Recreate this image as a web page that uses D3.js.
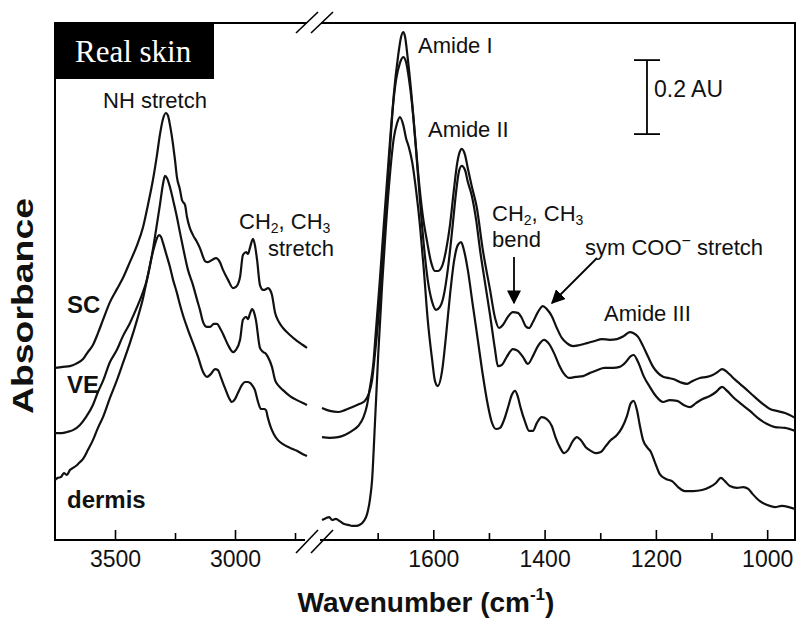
<!DOCTYPE html>
<html>
<head>
<meta charset="utf-8">
<script src="https://cdn.jsdelivr.net/npm/d3@7"></script>
<style>
  html, body { margin: 0; padding: 0; background: #fff; }
  svg { display: block; }
</style>
</head>
<body>
<svg id="chart" width="797" height="621"></svg>
<script>
// ---------------- DATA (wavenumber cm-1, absorbance AU) ----------------
const leftTickLabels = [3500, 3000];
const leftMinorTicks = [3250, 2750];
const rightTickLabels = [1600, 1400, 1200, 1000];
const rightMinorTicks = [1700, 1500, 1300, 1100];
const seriesNames = ["SC", "VE", "dermis"];

const scLeft = [[3750,0.465],[3717,0.468],[3688,0.470],[3663,0.476],[3633,0.489],[3613,0.508],[3592,0.527],[3571,0.559],[3550,0.595],[3521,0.643],[3492,0.678],[3467,0.708],[3438,0.751],[3408,0.797],[3383,0.846],[3363,0.905],[3342,0.973],[3325,1.041],[3313,1.095],[3300,1.138],[3288,1.154],[3279,1.146],[3271,1.122],[3258,1.068],[3250,1.027],[3242,0.981],[3229,0.946],[3221,0.919],[3208,0.905],[3200,0.873],[3188,0.843],[3175,0.824],[3158,0.805],[3146,0.789],[3133,0.765],[3125,0.754],[3113,0.751],[3096,0.757],[3079,0.762],[3063,0.751],[3050,0.730],[3029,0.703],[3008,0.681],[2996,0.684],[2979,0.711],[2967,0.770],[2954,0.778],[2946,0.773],[2938,0.789],[2925,0.814],[2917,0.797],[2908,0.757],[2896,0.689],[2883,0.676],[2871,0.678],[2863,0.681],[2854,0.676],[2846,0.662],[2833,0.614],[2817,0.589],[2800,0.573],[2771,0.554],[2742,0.538],[2717,0.527],[2700,0.519]];

const veLeft = [[3750,0.289],[3721,0.289],[3700,0.292],[3675,0.297],[3646,0.311],[3621,0.332],[3592,0.365],[3571,0.400],[3550,0.430],[3521,0.481],[3492,0.514],[3467,0.551],[3438,0.586],[3408,0.630],[3388,0.662],[3367,0.703],[3346,0.770],[3329,0.838],[3313,0.905],[3300,0.962],[3292,0.984],[3283,0.978],[3271,0.954],[3258,0.919],[3242,0.873],[3229,0.830],[3217,0.792],[3196,0.730],[3175,0.689],[3158,0.649],[3146,0.622],[3133,0.589],[3117,0.576],[3104,0.576],[3088,0.584],[3075,0.584],[3063,0.573],[3050,0.557],[3029,0.527],[3008,0.508],[2996,0.514],[2979,0.541],[2967,0.595],[2954,0.603],[2946,0.597],[2938,0.611],[2929,0.624],[2921,0.616],[2913,0.595],[2896,0.519],[2883,0.508],[2871,0.503],[2863,0.495],[2846,0.468],[2833,0.432],[2817,0.416],[2800,0.405],[2771,0.389],[2742,0.378],[2717,0.370],[2700,0.365]];

const dermisLeft = [[3750,0.162],[3738,0.168],[3725,0.170],[3713,0.181],[3700,0.176],[3688,0.189],[3675,0.195],[3663,0.200],[3650,0.208],[3633,0.219],[3613,0.243],[3592,0.270],[3571,0.303],[3550,0.332],[3521,0.384],[3492,0.432],[3467,0.478],[3438,0.532],[3408,0.595],[3383,0.654],[3363,0.716],[3346,0.768],[3333,0.800],[3325,0.816],[3317,0.824],[3308,0.819],[3300,0.803],[3288,0.776],[3271,0.738],[3258,0.703],[3242,0.668],[3229,0.635],[3217,0.608],[3196,0.568],[3175,0.532],[3154,0.495],[3133,0.454],[3117,0.441],[3100,0.449],[3083,0.462],[3071,0.459],[3058,0.438],[3042,0.411],[3025,0.384],[3013,0.373],[3000,0.381],[2988,0.397],[2971,0.419],[2958,0.427],[2946,0.427],[2933,0.422],[2917,0.405],[2904,0.373],[2892,0.354],[2879,0.354],[2871,0.351],[2863,0.330],[2850,0.303],[2838,0.286],[2821,0.270],[2800,0.259],[2771,0.249],[2742,0.241],[2717,0.232],[2700,0.227]];

const scRight = [[1800,0.357],[1786,0.349],[1771,0.346],[1759,0.351],[1746,0.359],[1732,0.368],[1723,0.376],[1716,0.395],[1710,0.432],[1705,0.500],[1699,0.595],[1692,0.730],[1685,0.892],[1678,1.054],[1671,1.203],[1663,1.311],[1658,1.359],[1654,1.373],[1651,1.362],[1646,1.303],[1640,1.216],[1633,1.095],[1626,0.973],[1619,0.878],[1611,0.805],[1604,0.751],[1597,0.727],[1592,0.727],[1584,0.741],[1577,0.784],[1570,0.851],[1563,0.946],[1557,1.019],[1552,1.051],[1549,1.057],[1543,1.041],[1538,1.005],[1531,0.957],[1522,0.900],[1511,0.784],[1498,0.676],[1489,0.600],[1482,0.573],[1475,0.581],[1466,0.603],[1457,0.616],[1448,0.614],[1441,0.600],[1434,0.578],[1428,0.573],[1421,0.589],[1412,0.616],[1403,0.632],[1396,0.624],[1387,0.605],[1378,0.573],[1369,0.546],[1360,0.532],[1349,0.524],[1337,0.527],[1324,0.532],[1310,0.538],[1297,0.543],[1283,0.541],[1270,0.543],[1258,0.551],[1247,0.562],[1240,0.559],[1232,0.549],[1223,0.524],[1214,0.495],[1205,0.468],[1196,0.451],[1187,0.441],[1178,0.438],[1169,0.435],[1157,0.427],[1144,0.422],[1134,0.430],[1121,0.438],[1108,0.441],[1098,0.446],[1089,0.454],[1081,0.462],[1072,0.454],[1061,0.438],[1049,0.422],[1036,0.405],[1022,0.386],[1008,0.368],[995,0.354],[983,0.349],[968,0.343],[950,0.330]];

const veRight = [[1800,0.278],[1786,0.276],[1771,0.278],[1759,0.284],[1746,0.295],[1735,0.308],[1726,0.330],[1719,0.365],[1714,0.411],[1708,0.473],[1703,0.568],[1696,0.703],[1689,0.851],[1681,1.014],[1674,1.149],[1667,1.243],[1660,1.289],[1654,1.305],[1649,1.292],[1644,1.249],[1638,1.176],[1631,1.054],[1624,0.919],[1617,0.797],[1610,0.703],[1602,0.643],[1595,0.622],[1588,0.630],[1581,0.662],[1574,0.730],[1566,0.838],[1559,0.941],[1554,0.995],[1549,1.011],[1543,1.000],[1538,0.968],[1531,0.932],[1523,0.865],[1516,0.784],[1507,0.695],[1498,0.608],[1489,0.514],[1484,0.470],[1477,0.473],[1468,0.495],[1457,0.516],[1448,0.511],[1439,0.495],[1430,0.476],[1421,0.497],[1412,0.524],[1401,0.541],[1392,0.530],[1383,0.505],[1374,0.473],[1365,0.449],[1356,0.438],[1344,0.441],[1331,0.443],[1319,0.451],[1306,0.459],[1292,0.465],[1277,0.465],[1265,0.468],[1254,0.481],[1245,0.497],[1240,0.500],[1232,0.481],[1222,0.443],[1211,0.414],[1200,0.389],[1187,0.373],[1175,0.378],[1162,0.376],[1150,0.365],[1139,0.359],[1128,0.370],[1116,0.381],[1103,0.389],[1092,0.400],[1081,0.414],[1072,0.403],[1061,0.386],[1047,0.368],[1031,0.349],[1017,0.330],[1001,0.314],[986,0.305],[968,0.303],[950,0.295]];

const dermisRight = [[1800,0.054],[1793,0.059],[1787,0.062],[1782,0.054],[1775,0.057],[1768,0.051],[1760,0.043],[1753,0.041],[1746,0.038],[1739,0.038],[1732,0.041],[1725,0.051],[1719,0.070],[1714,0.108],[1710,0.162],[1705,0.311],[1699,0.500],[1692,0.689],[1685,0.851],[1678,0.986],[1671,1.086],[1665,1.127],[1660,1.143],[1654,1.122],[1649,1.086],[1644,1.062],[1638,1.022],[1631,0.946],[1624,0.851],[1617,0.730],[1610,0.595],[1602,0.486],[1597,0.430],[1592,0.416],[1584,0.459],[1577,0.554],[1570,0.662],[1563,0.751],[1556,0.797],[1550,0.805],[1545,0.784],[1538,0.730],[1529,0.635],[1520,0.541],[1511,0.446],[1502,0.365],[1495,0.319],[1487,0.300],[1480,0.303],[1473,0.324],[1466,0.357],[1459,0.392],[1453,0.403],[1448,0.387],[1443,0.357],[1435,0.319],[1428,0.295],[1421,0.295],[1414,0.316],[1405,0.332],[1396,0.327],[1387,0.308],[1380,0.276],[1372,0.249],[1365,0.235],[1358,0.243],[1349,0.268],[1342,0.278],[1335,0.270],[1326,0.251],[1317,0.241],[1308,0.235],[1299,0.238],[1290,0.254],[1281,0.270],[1270,0.284],[1261,0.303],[1252,0.335],[1245,0.370],[1240,0.376],[1234,0.351],[1229,0.311],[1223,0.270],[1216,0.251],[1209,0.238],[1202,0.211],[1193,0.178],[1182,0.165],[1171,0.159],[1160,0.143],[1148,0.132],[1133,0.132],[1117,0.135],[1103,0.143],[1092,0.154],[1083,0.168],[1076,0.159],[1067,0.146],[1054,0.141],[1043,0.143],[1034,0.138],[1026,0.124],[1013,0.105],[1001,0.095],[986,0.089],[974,0.092],[961,0.089],[950,0.084]];

const scaleBarAU = 0.2;
const scaleBarBase = 1.097;   // AU
const scaleBarWn = 1216;      // cm-1 position in right panel

// ---------------- LAYOUT ----------------
const svg = d3.select("#chart");
const plotLeft = 55, plotRight = 795, plotTop = 23, plotBottom = 540;

const xL = d3.scaleLinear().domain([3750, 2700]).range([plotLeft, 307]);
const xR = d3.scaleLinear().domain([1800, 950]).range([322, plotRight]);
const y = d3.scaleLinear().domain([0, 1.4]).range([plotBottom, 22]);

const sans = "'Liberation Sans', Arial, Helvetica, sans-serif";

// frame
const frame = svg.append("g").attr("stroke", "#000").attr("stroke-width", 2).attr("fill", "none");
frame.append("line").attr("x1", plotLeft).attr("x2", plotLeft).attr("y1", plotTop - 1).attr("y2", plotBottom + 1);
frame.append("line").attr("x1", plotRight).attr("x2", plotRight).attr("y1", plotTop - 1).attr("y2", plotBottom + 1);
frame.append("line").attr("x1", plotLeft).attr("x2", 307).attr("y1", plotTop).attr("y2", plotTop);
frame.append("line").attr("x1", 321).attr("x2", plotRight).attr("y1", plotTop).attr("y2", plotTop);
frame.append("line").attr("x1", plotLeft).attr("x2", 305).attr("y1", plotBottom).attr("y2", plotBottom);
frame.append("line").attr("x1", 320).attr("x2", plotRight).attr("y1", plotBottom).attr("y2", plotBottom);

// break marks
const brk = svg.append("g").attr("stroke", "#000").attr("stroke-width", 1.6);
[[plotBottom, 13, -10], [plotTop, 10, -11]].forEach(([yy, dn, up]) => {
  [[296, 318], [311, 333]].forEach(([a, b]) => {
    brk.append("line").attr("x1", a).attr("y1", yy + dn).attr("x2", b).attr("y2", yy + up);
  });
});

// axes (ticks pointing inward)
function drawAxis(scale, labels, minors) {
  const g = svg.append("g").attr("transform", `translate(0,${plotBottom})`);
  g.call(d3.axisBottom(scale).tickValues(labels).tickSizeInner(-10).tickSizeOuter(0).tickPadding(20).tickFormat(d3.format("d")));
  g.select(".domain").remove();
  g.selectAll(".tick line").attr("stroke", "#000").attr("stroke-width", 1.6);
  g.selectAll(".tick text").attr("font-family", sans).attr("font-size", 23).attr("fill", "#111").attr("dy", "0.3em");
  const m = svg.append("g").attr("transform", `translate(0,${plotBottom})`);
  m.call(d3.axisBottom(scale).tickValues(minors).tickSizeInner(-7).tickSizeOuter(0).tickFormat(""));
  m.select(".domain").remove();
  m.selectAll(".tick line").attr("stroke", "#000").attr("stroke-width", 1.6);
}
drawAxis(xL, leftTickLabels, leftMinorTicks);
drawAxis(xR, rightTickLabels, rightMinorTicks);

// curves
const lineL = d3.line().x(d => xL(d[0])).y(d => y(d[1])).curve(d3.curveMonotoneX);
const lineR = d3.line().x(d => xR(d[0])).y(d => y(d[1])).curve(d3.curveMonotoneX);
const curves = svg.append("g").attr("fill", "none").attr("stroke", "#111").attr("stroke-width", 2.2).attr("stroke-linejoin", "round");
[scLeft, veLeft, dermisLeft].forEach(s => curves.append("path").attr("d", lineL(s)));
[scRight, veRight, dermisRight].forEach(s => curves.append("path").attr("d", lineR(s)));

// "Real skin" box
svg.append("rect").attr("x", plotLeft).attr("y", plotTop).attr("width", 159).attr("height", 56).attr("fill", "#000");
svg.append("text").attr("x", 75).attr("y", 62).attr("font-family", "'Liberation Serif', 'Times New Roman', serif")
  .attr("font-size", 31).attr("fill", "#fff").text("Real skin");

// annotations
const ann = svg.append("g").attr("font-family", sans).attr("font-size", 22).attr("fill", "#111");
ann.append("text").attr("x", 103).attr("y", 108).text("NH stretch");
function chLabel(xx, yy) {
  const t = ann.append("text").attr("x", xx).attr("y", yy);
  t.append("tspan").text("CH");
  t.append("tspan").attr("font-size", 14).attr("dy", 4).text("2");
  t.append("tspan").attr("dy", -4).text(", CH");
  t.append("tspan").attr("font-size", 14).attr("dy", 4).text("3");
}
chLabel(239, 229);
ann.append("text").attr("x", 268).attr("y", 256).text("stretch");
ann.append("text").attr("x", 418).attr("y", 53).text("Amide I");
ann.append("text").attr("x", 428).attr("y", 137).text("Amide II");
chLabel(492, 221);
ann.append("text").attr("x", 492).attr("y", 247).text("bend");
const coo = ann.append("text").attr("x", 585).attr("y", 255);
coo.append("tspan").text("sym COO");
coo.append("tspan").attr("font-size", 16).attr("dy", -9).text("\u2212");
coo.append("tspan").attr("dy", 9).text("  stretch");
ann.append("text").attr("x", 604).attr("y", 321).text("Amide III");

// arrows
const defs = svg.append("defs");
defs.append("marker").attr("id", "ah").attr("viewBox", "0 0 10 10").attr("refX", 9).attr("refY", 5)
  .attr("markerWidth", 14).attr("markerHeight", 14).attr("markerUnits", "userSpaceOnUse").attr("orient", "auto")
  .append("path").attr("d", "M0,0 L10,5 L0,10 z").attr("fill", "#000");
svg.append("line").attr("x1", 514).attr("y1", 257).attr("x2", 514).attr("y2", 303)
  .attr("stroke", "#000").attr("stroke-width", 1.8).attr("marker-end", "url(#ah)");
svg.append("line").attr("x1", 597).attr("y1", 258).attr("x2", 552).attr("y2", 303)
  .attr("stroke", "#000").attr("stroke-width", 1.8).attr("marker-end", "url(#ah)");

// scale bar
const sbx = xR(scaleBarWn);
const sb = svg.append("g").attr("stroke", "#000").attr("stroke-width", 1.8);
sb.append("line").attr("x1", sbx).attr("x2", sbx).attr("y1", y(scaleBarBase + scaleBarAU)).attr("y2", y(scaleBarBase));
[scaleBarBase, scaleBarBase + scaleBarAU].forEach(v =>
  sb.append("line").attr("x1", sbx - 13).attr("x2", sbx + 13).attr("y1", y(v)).attr("y2", y(v)));
svg.append("text").attr("x", sbx + 7).attr("y", 97).attr("font-family", sans).attr("font-size", 23)
  .attr("fill", "#111").text(scaleBarAU + " AU");

// series labels
const lab = svg.append("g").attr("font-family", sans).attr("font-size", 24).attr("font-weight", "bold").attr("fill", "#111");
lab.append("text").attr("x", 67).attr("y", 313).text(seriesNames[0]);
lab.append("text").attr("x", 67).attr("y", 393).text(seriesNames[1]);
lab.append("text").attr("x", 67).attr("y", 508).text(seriesNames[2]);

// axis titles
svg.append("text").attr("transform", "translate(33,306) rotate(-90)").attr("text-anchor", "middle")
  .attr("font-family", sans).attr("font-size", 29).attr("font-weight", "bold").attr("fill", "#111")
  .attr("textLength", 216).attr("lengthAdjust", "spacingAndGlyphs").text("Absorbance");
const xt = svg.append("text").attr("x", 426).attr("y", 612).attr("text-anchor", "middle")
  .attr("font-family", sans).attr("font-size", 28).attr("font-weight", "bold").attr("fill", "#111");
xt.append("tspan").text("Wavenumber (cm");
xt.append("tspan").attr("font-size", 17).attr("dy", -12).text("-1");
xt.append("tspan").attr("dy", 12).text(")");
</script>
</body>
</html>
